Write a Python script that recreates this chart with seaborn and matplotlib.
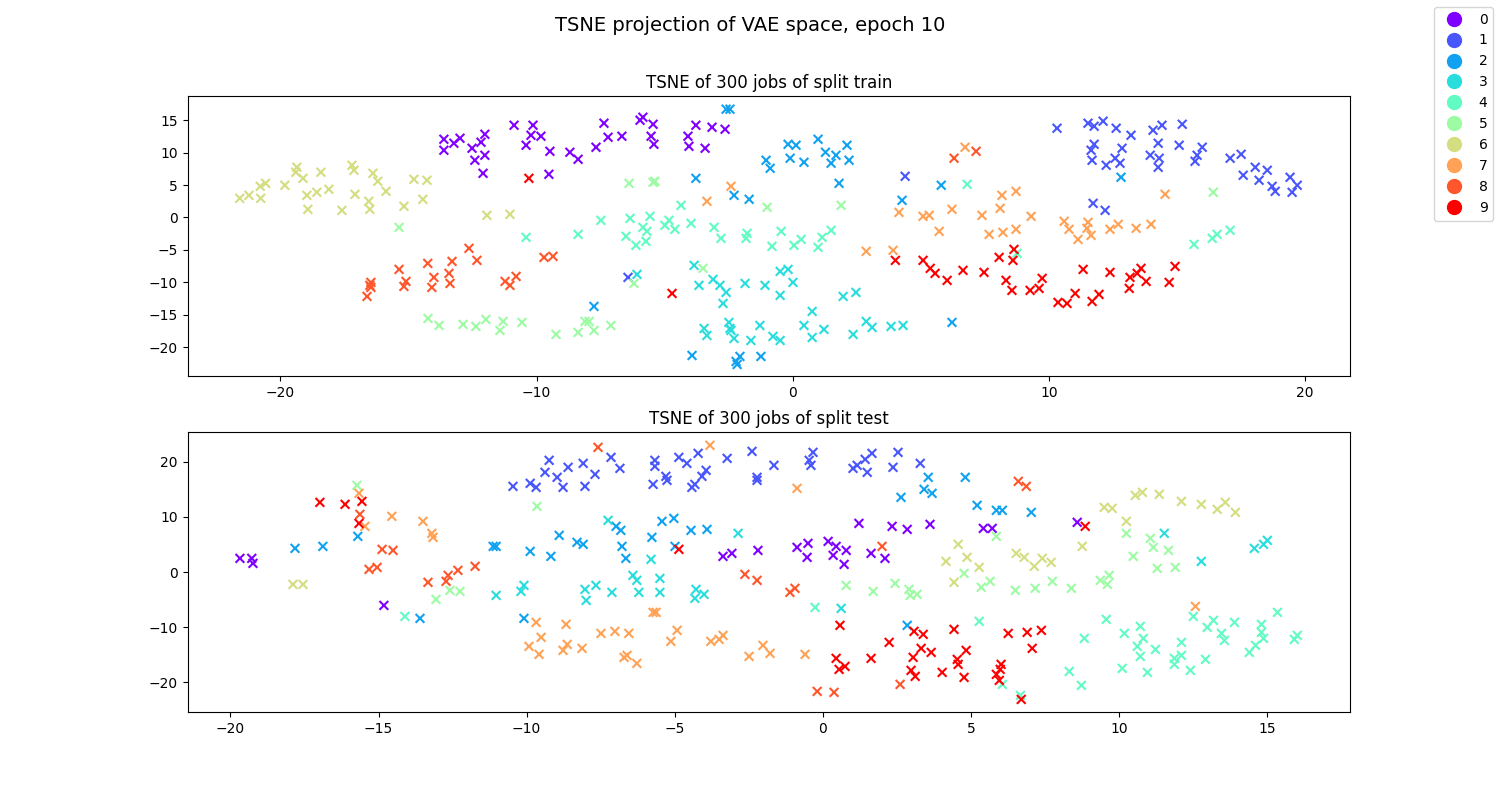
import numpy as np
import pandas as pd
import seaborn as sns
import matplotlib.pyplot as plt
from matplotlib.lines import Line2D

labels = [0, 1, 2, 3, 4, 5, 6, 7, 8, 9]

# values, (x, y) per label
train_0 = [(-13.62,12.04),(-13.62,10.35),(-13.23,11.43),(-12.99,12.20),(-12.52,10.66),(-12.17,11.58),(-12.02,12.81),
           (-12.02,9.58),(-12.41,8.81),(-12.09,6.80),(-10.88,14.20),(-10.14,14.20),(-10.22,12.66),(-9.83,12.51),
           (-10.41,11.12),(-9.48,10.19),(-8.70,10.04),(-8.38,8.96),(-9.52,6.65),(-7.37,14.51),(-7.21,12.35),
           (-7.68,10.81),(-6.67,12.51),(-5.96,14.97),(-5.85,15.43),(-5.45,14.35),(-5.53,12.51),(-5.42,11.27),
           (-3.78,14.20),(-4.09,12.51),(-4.05,10.96),(-3.15,13.89),(-2.64,13.58),(-3.42,10.66)]
train_1 = [(10.32,13.74),(11.53,14.51),(11.77,14.05),(12.12,14.82),(12.63,13.74),(13.21,12.66),(14.07,13.43),
           (14.42,14.20),(15.21,14.35),(11.77,11.27),(11.65,10.35),(11.69,8.81),(12.86,10.66),(12.59,9.12),
           (12.24,8.04),(12.78,8.35),(14.27,11.43),(15.09,11.12),(13.96,9.58),(14.31,9.12),(14.27,7.73),
           (15.99,10.81),(15.79,9.58),(15.71,8.65),(17.08,9.12),(17.51,9.73),(18.06,7.73),(17.59,6.50),
           (18.21,5.73),(18.53,7.27),(18.72,4.80),(18.84,4.03),(19.42,6.19),(19.70,4.96),(19.50,3.88),
           (11.73,2.18),(12.20,1.10),(4.39,6.34),(-6.43,-9.22)]
train_2 = [(-2.60,16.67),(-2.45,16.67),(-0.18,11.27),(0.13,11.12),(0.99,12.04),(1.28,10.04),(1.69,9.58),(2.12,11.12),
           (2.20,8.81),(1.50,8.35),(0.44,8.50),(-0.10,9.12),(-1.04,8.81),(-0.88,7.57),(1.81,5.26),(-3.78,6.03),
           (-2.29,3.41),(-1.70,2.80),(4.27,2.64),(5.80,4.96),(-7.76,-13.69),(-3.93,-21.24),(-2.06,-21.39),
           (-1.24,-21.39),(-2.21,-22.16),(-2.17,-22.63),(6.22,-16.15),(12.82,6.19)]
train_3 = [(-3.85,-7.37),(-6.08,-8.76),(-3.11,-9.53),(-3.66,-10.45),(-2.84,-10.45),(-2.60,-11.53),(-2.72,-13.23),
           (-1.86,-10.15),(-1.08,-10.45),(-0.49,-8.30),(-0.18,-7.99),(0.01,-9.99),(-0.49,-11.99),(1.97,-12.15),
           (2.47,-11.53),(0.76,-14.46),(-3.46,-17.08),(-3.35,-18.16),(-2.49,-16.15),(-2.45,-17.08),(-2.41,-17.39),
           (-2.29,-18.62),(-1.28,-16.62),(-1.63,-18.93),(-0.77,-18.31),(-0.49,-18.93),(0.44,-16.62),(0.76,-18.47),
           (1.22,-17.23),(2.36,-18.00),(2.87,-16.00),(3.10,-16.92),(3.84,-16.77),(4.31,-16.62)]
train_4 = [(-10.41,-3.06),(-8.38,-2.60),(-7.49,-0.44),(-6.35,-0.13),(-5.57,0.18),(-5.85,-1.52),(-5.69,-2.13),
           (-6.51,-2.90),(-6.12,-4.29),(-5.73,-3.67),(-4.99,-1.21),(-4.83,-0.44),(-4.60,-1.82),(-4.36,1.87),
           (-3.97,-0.90),(-3.07,-1.52),(-2.80,-3.21),(-1.78,-2.44),(-1.82,-3.21),(-0.81,-4.44),(-0.45,-2.13),
           (0.05,-4.29),(0.33,-3.37),(0.99,-4.60),(1.15,-3.06),(1.50,-1.98),(6.81,5.11),(8.76,-5.52),
           (15.67,-4.14),(16.38,-3.21),(16.57,-2.60),(17.08,-1.98)]
train_5 = [(-15.37,-1.52),(-14.24,-15.54),(-13.81,-16.62),(-12.87,-16.46),(-12.37,-16.77),(-11.98,-15.69),
           (-11.31,-16.00),(-11.43,-17.39),(-10.57,-16.15),(-9.24,-18.00),(-8.38,-17.69),(-8.11,-16.00),
           (-7.95,-16.00),(-7.76,-17.39),(-7.10,-16.62),(-6.39,5.26),(-5.45,5.42),(-5.38,5.57),(-1.00,1.57),
           (1.89,1.87),(-3.50,-7.83),(-6.20,-10.15),(16.42,3.88)]
train_6 = [(-21.59,2.95),(-21.23,3.41),(-20.77,2.95),(-20.79,4.80),(-20.58,5.26),(-19.83,4.96),(-19.36,7.73),
           (-19.40,6.96),(-19.12,6.03),(-18.97,3.41),(-18.58,3.88),(-18.42,6.96),(-18.11,4.34),(-18.93,1.26),
           (-17.60,1.10),(-17.09,3.57),(-17.21,8.04),(-17.13,7.27),(-16.39,6.80),(-16.20,5.57),(-15.88,4.03),
           (-16.55,2.49),(-16.51,1.26),(-15.18,1.72),(-14.79,5.88),(-14.28,5.73),(-14.44,2.80),(-11.94,0.33),
           (-11.04,0.49)]
train_7 = [(-2.41,4.80),(-3.35,2.49),(6.73,10.81),(4.15,0.79),(5.09,0.18),(5.33,0.33),(6.22,1.26),(5.72,-2.13),
           (2.87,-5.21),(3.92,-5.06),(8.17,3.41),(8.72,4.03),(8.10,1.41),(7.39,0.33),(9.31,0.18),(7.67,-2.60),
           (8.21,-2.29),(8.72,-1.82),(10.60,-0.59),(10.79,-1.82),(11.14,-3.37),(11.53,-0.75),(11.49,-1.67),
           (11.65,-2.75),(12.39,-1.82),(12.71,-1.05),(13.41,-1.67),(13.99,-1.05),(14.54,3.57)]
train_8 = [(-12.64,-4.75),(-12.33,-6.60),(-14.25,-7.06),(-13.30,-6.76),(-15.37,-7.99),(-13.42,-8.60),(-14.01,-9.22),
           (-15.10,-9.84),(-15.18,-10.61),(-14.09,-10.76),(-13.38,-10.15),(-16.47,-9.99),(-16.51,-10.45),
           (-16.47,-10.76),(-16.62,-12.15),(-11.23,-9.84),(-11.04,-10.45),(-10.80,-9.07),(-9.71,-6.14),
           (-9.36,-5.98),(6.30,9.12),(7.16,10.19)]
train_9 = [(-10.30,6.03),(-4.71,-11.69),(4.01,-6.60),(5.09,-6.60),(5.37,-7.83),(5.56,-8.60),(6.03,-9.68),(6.65,-8.14),
           (7.47,-8.45),(8.06,-6.14),(8.64,-4.91),(8.60,-6.60),(8.33,-9.68),(8.56,-11.22),(9.27,-11.22),(9.62,-10.92),
           (9.74,-9.37),(10.36,-13.07),(10.71,-13.23),(11.03,-11.69),(11.34,-7.99),(11.69,-12.92),(11.96,-11.84),
           (12.39,-8.45),(13.14,-10.92),(13.17,-9.22),(13.45,-8.60),(13.60,-7.83),(13.80,-9.84),(14.70,-9.99),
           (14.93,-7.53)]

test_0 = [(-19.68,2.48),(-19.28,2.48),(-19.24,1.57),(-14.82,-6.07),(1.22,8.84),(2.34,8.30),(2.85,7.75),(3.62,8.66),
          (-3.37,2.84),(-3.07,3.39),(-2.19,3.93),(-0.87,4.48),(-0.50,5.21),(-0.53,2.66),(0.18,5.57),(0.45,4.66),
          (0.35,3.03),(0.79,3.93),(0.72,1.39),(1.63,3.39),(2.10,2.48),(5.42,7.93),(5.72,7.93),(8.59,9.03)]
test_1 = [(-10.46,15.57),(-9.88,16.12),(-9.68,15.39),(-9.38,18.12),(-9.24,20.30),(-8.97,17.21),(-8.77,15.39),
          (-8.60,19.03),(-8.09,19.75),(-8.03,15.57),(-7.69,17.75),(-7.15,20.84),(-6.85,18.84),(-5.67,20.30),
          (-5.67,19.21),(-5.73,15.93),(-5.30,17.39),(-5.26,16.66),(-4.86,20.84),(-4.59,19.75),(-4.21,21.57),
          (-3.94,18.48),(-4.08,17.39),(-4.32,15.93),(-4.42,15.39),(-3.23,20.66),(-2.39,21.93),(-2.22,17.21),
          (-2.22,16.66),(-1.65,19.39),(-0.33,21.75),(-0.46,20.30),(-0.40,19.39),(1.02,18.84),(1.16,19.39),
          (1.43,20.48),(1.66,21.57),(1.50,18.12),(2.37,19.03),(2.54,21.75),(3.29,19.75)]
test_2 = [(-17.82,4.30),(-16.88,4.66),(-15.70,6.48),(-13.60,-8.43),(-11.13,4.66),(-11.03,4.66),(-9.88,3.75),
          (-9.18,2.84),(-8.90,6.66),(-8.30,5.39),(-8.09,5.03),(-10.09,-8.43),(-6.98,8.30),(-6.82,7.57),(-5.43,9.21),
          (-5.03,9.75),(-4.45,7.57),(-3.91,7.75),(-5.77,6.30),(-6.78,4.66),(-6.65,2.48),(-4.99,4.66),(3.56,17.21),
          (4.81,17.21),(2.64,13.57),(3.42,15.03),(3.69,14.30),(2.85,-9.70),(5.21,12.12),(5.86,11.21),(6.06,11.21),
          (7.04,10.84)]
test_3 = [(-11.03,-4.25),(-10.09,-2.43),(-10.19,-3.52),(-8.03,-3.16),(-7.99,-5.16),(-7.25,9.39),(-2.86,7.03),
          (-5.80,2.30),(-7.66,-2.43),(-7.12,-3.70),(-6.41,-0.61),(-6.28,-1.52),(-6.21,-3.70),(-5.50,-1.16),
          (-5.50,-3.70),(-4.28,-3.16),(-4.32,-4.79),(-4.01,-4.07),(0.62,-6.61),(11.53,7.03),(12.78,1.93),
          (14.57,4.30),(14.88,5.03),(15.01,5.75)]
test_4 = [(-14.11,-8.07),(-0.26,-6.43),(5.28,-8.97),(6.06,-20.43),(6.67,-22.43),(8.83,-12.07),(8.32,-18.07),
          (8.73,-20.61),(9.57,-8.61),(10.18,-11.16),(10.72,-9.88),(10.82,-12.07),(10.62,-13.52),(10.72,-15.34),
          (10.11,-17.52),(10.96,-18.25),(11.23,-14.07),(12.11,-12.79),(11.87,-15.70),(12.11,-15.16),(11.87,-16.79),
          (12.41,-17.88),(12.92,-15.88),(12.51,-8.07),(13.19,-8.79),(12.98,-10.07),(13.46,-11.16),(13.56,-12.43),
          (13.90,-9.16),(14.81,-9.52),(14.81,-10.97),(14.88,-12.07),(14.61,-13.34),(14.40,-14.61),(15.35,-7.34),
          (15.92,-12.25),(16.02,-11.52)]
test_5 = [(-15.73,15.75),(-9.65,11.93),(-12.59,-3.34),(-12.25,-3.52),(-13.06,-4.97),(0.79,-2.43),(1.70,-3.52),
          (2.44,-2.07),(2.91,-3.16),(2.95,-4.25),(3.18,-4.07),(4.77,-0.25),(5.86,6.48),(5.65,-1.70),(5.35,-2.79),
          (6.50,-3.34),(7.17,-2.97),(7.75,-1.70),(8.39,-2.97),(9.37,-1.52),(9.67,-0.61),(9.61,-2.25),(10.25,7.03),
          (10.48,2.84),(11.06,6.12),(11.16,4.48),(11.67,3.93),(11.29,0.66),(11.90,0.84)]
test_6 = [(-17.89,-2.25),(-17.55,-2.25),(4.57,5.03),(4.16,1.93),(4.87,2.66),(4.43,-1.88),(5.28,0.84),(6.53,3.39),
          (6.80,2.66),(7.14,1.03),(7.41,2.48),(7.71,1.75),(8.76,4.66),(10.25,9.21),(9.50,11.75),(9.77,11.57),
          (10.55,13.93),(10.79,14.48),(11.36,14.12),(12.11,12.84),(12.78,12.30),(13.32,11.39),(13.59,12.66),
          (13.93,10.84)]
test_7 = [(-15.66,14.30),(-15.46,8.30),(-14.55,10.12),(-13.50,9.21),(-13.20,7.03),(-13.16,6.30),(-9.68,-9.16),
          (-8.67,-9.52),(-9.51,-11.88),(-9.92,-13.52),(-9.58,-14.97),(-8.63,-13.16),(-8.77,-14.25),(-8.13,-13.88),
          (-7.49,-11.16),(-7.02,-10.79),(-6.55,-11.16),(-5.73,-7.34),(-5.63,-7.34),(-4.92,-10.61),(-5.13,-12.61),
          (-3.78,-12.61),(-3.50,-12.25),(-3.37,-11.52),(-6.61,-15.16),(-6.71,-15.52),(-6.28,-16.61),(-2.49,-15.34),
          (-2.02,-13.34),(-1.78,-14.79),(-0.60,-14.97),(-3.81,23.03),(-0.87,15.21),(12.58,-6.25)]
test_8 = [(-14.88,4.12),(-14.51,3.93),(-15.32,0.48),(-15.05,0.84),(-13.33,-1.88),(-12.65,-0.61),(-12.72,-1.70),
          (-12.32,0.30),(-11.74,1.03),(-15.63,10.48),(-7.59,22.66),(-2.63,-0.43),(-2.22,-1.52),(-0.94,-2.97),
          (-1.11,-3.70),(2.00,4.66),(-0.19,-21.70),(0.38,-21.88),(2.61,-20.43),(6.60,16.48),(6.87,15.57)]
test_9 = [(-16.98,12.66),(-16.13,12.30),(-15.56,12.84),(-15.66,8.84),(-4.86,4.12),(0.58,-9.70),(2.24,-12.79),
          (1.63,-15.70),(0.45,-15.70),(0.75,-17.16),(0.55,-17.70),(3.08,-10.79),(3.39,-11.34),(4.43,-10.43),
          (3.32,-13.88),(3.05,-15.52),(3.66,-14.61),(2.98,-17.88),(3.12,-18.97),(4.03,-18.25),(4.54,-15.88),
          (4.57,-16.79),(4.84,-14.25),(4.77,-19.16),(8.86,8.30),(6.26,-11.16),(6.90,-10.97),(7.38,-10.61),
          (7.07,-13.88),(6.02,-16.79),(5.99,-17.70),(5.86,-18.61),(5.96,-19.70),(6.70,-23.16)]

train_points = [train_0, train_1, train_2, train_3, train_4, train_5, train_6, train_7, train_8, train_9]
test_points = [test_0, test_1, test_2, test_3, test_4, test_5, test_6, test_7, test_8, test_9]


def make_frame(points):
    rows = []
    for label, pts in zip(labels, points):
        for x, y in pts:
            rows.append({'x': x, 'y': y, 'label': label})
    return pd.DataFrame(rows)


def main():
    colors = plt.cm.rainbow(np.linspace(0, 1, len(labels)))
    palette = dict(zip(labels, colors))

    fig, axes = plt.subplots(2, 1, figsize=(15, 8))
    fig.suptitle('TSNE projection of VAE space, epoch 10', fontsize=14)

    splits = [('train', train_points, (-23.63, 21.76), (-24.4, 18.7)),
              ('test', test_points, (-21.45, 17.8), (-25.45, 25.45))]
    for ax, (name, points, xlim, ylim) in zip(axes, splits):
        df = make_frame(points)
        sns.scatterplot(data=df, x='x', y='y', hue='label', palette=palette, marker='x',
                        s=40, linewidth=1.5, legend=False, ax=ax)
        ax.set_title(f'TSNE of 300 jobs of split {name}')
        ax.set_xlabel('')
        ax.set_ylabel('')
        ax.set_xlim(xlim)
        ax.set_ylim(ylim)

    handles = [Line2D([], [], marker='o', linestyle='None', color=c, markersize=10, label=str(l))
               for l, c in zip(labels, colors)]
    fig.legend(handles=handles, loc='upper right')

    plt.savefig('out.png', dpi=100)
    plt.close()


if __name__ == "__main__":
    main()
